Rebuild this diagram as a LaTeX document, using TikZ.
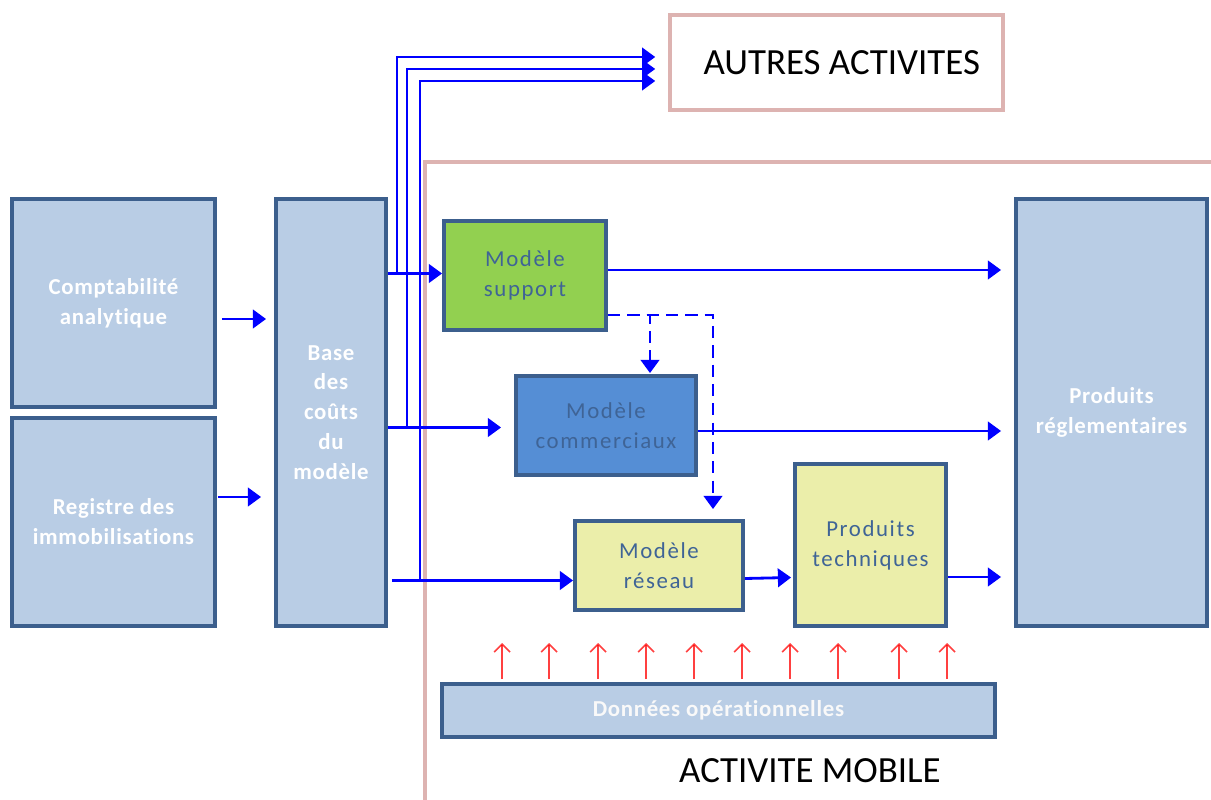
\documentclass[tikz,border=0pt]{standalone}
\usepackage{fontspec}
\setmainfont[Ligatures={NoCommon}]{Carlito}
\usetikzlibrary{arrows.meta,calc}
\definecolor{lb}{HTML}{B9CDE5}
\definecolor{bd}{HTML}{3C5F8D}
\definecolor{gr}{HTML}{92D050}
\definecolor{cm}{HTML}{558ED5}
\definecolor{yl}{HTML}{EBEEAA}
\definecolor{tx}{HTML}{3F6496}
\definecolor{pk}{HTML}{DDB3B1}
\definecolor{bl}{HTML}{0000FF}
\newcommand\pxu{0.02cm}
\begin{document}
\begin{tikzpicture}[x=0.02cm,y=-0.02cm,
 box/.style={draw=bd, line width=2.2pt, align=center, inner sep=0pt},
 light/.style={box, fill=lb, text=white, font=\bfseries\fontsize{13}{17}\selectfont\addfontfeature{LetterSpace=3,Ligatures=NoCommon}},
 dark/.style={box, text=tx, font=\fontsize{13}{17}\selectfont\addfontfeature{LetterSpace=7,Ligatures=NoCommon}},
 sz/.style args={#1/#2}{minimum width=#1*\pxu, minimum height=#2*\pxu},
 arr/.style={draw=bl, line width=1.6pt, -{Triangle[length=7.5pt,width=10.5pt]}},
 darr/.style={arr, dash pattern=on 7pt off 4pt},
 redarr/.style={draw=red, opacity=0.75, line width=0.9pt, -{Straight Barb[length=4.5pt,width=9pt]}},
 frame/.style={draw=pk, line width=2pt},
 big/.style={font=\fontsize{21}{25}\selectfont, text=black, inner sep=0pt}
]
\useasboundingbox (0,0) rectangle (1211,800);
% frames
\draw[frame] (425,810) -- (425,162) -- (1220,162);
\node[frame, sz=333/95, big] (autres) at (836.5,62.5) {\hspace*{6pt}AUTRES ACTIVITES};
\node[big] (mobile) at (810,771) {ACTIVITE MOBILE};
% boxes
\node[light, sz=203/208] (compta) at (113.5,303) {Comptabilité\\analytique};
\node[light, sz=203/208] (registre) at (113.5,522) {Registre des\\immobilisations};
\node[light, sz=110/427] (base) at (331,412.5) {Base\\des\\coûts\\du\\modèle};
\node[dark, fill=gr, sz=162/109] (support) at (525,275.5) {Modèle\\support};
\node[dark, fill=cm, sz=180/99] (commerciaux) at (606,425.5) {Modèle\\commerciaux};
\node[dark, fill=yl, sz=168/89] (reseau) at (659,565.5) {Modèle\\réseau};
\node[dark, fill=yl, sz=151/162] (techniques) at (870.5,545) {Produits\\techniques};
\node[light, sz=191/427] (regl) at (1111.5,412.5) {Produits\\réglementaires};
\node[light, sz=553/53, text=white!95!gray] (donnees) at (718.5,710.5) {Données opérationnelles};
% inputs to base
\draw[arr] ($(compta.east)+(5,16)$) -- ($(base.west |- compta.east)+(-8,16)$);
\draw[arr] ($(registre.east)+(1,-25)$) -- ($(base.west |- registre.east)+(-13,-25)$);
% to autres activites
\draw[arr] ($(base.east |- support.west)+(9,-2)$) |- ($(autres.west)+(-13,-5.5)$);
\draw[arr] ($(base.east |- commerciaux.west)+(19,2)$) |- ($(autres.west)+(-13,6.5)$);
\draw[arr] ($(base.east |- reseau.west)+(32,15)$) |- ($(autres.west)+(-13,18.5)$);
% base to models
\draw[arr] ($(base.east |- support.west)+(0,-2)$) -- ($(support.west)+(0,-2)$);
\draw[arr] ($(base.east |- commerciaux.west)+(0,2)$) -- ($(commerciaux.west)+(-13,2)$);
\draw[arr] ($(base.east |- reseau.west)+(4,15)$) -- ($(reseau.west)+(0,15)$);
% models to products
\draw[arr] ($(support.east)+(0,-5.5)$) -- ($(regl.west |- support.east)+(-13,-5.5)$);
\draw[arr] ($(commerciaux.east)+(0,5.5)$) -- ($(regl.west |- commerciaux.east)+(-13,5.5)$);
\draw[arr] ($(reseau.east)+(0,13)$) -- ($(techniques.west |- reseau.east)+(-2,12)$);
\draw[arr] ($(techniques.east)+(0,32)$) -- ($(regl.west |- techniques.east)+(-13,32)$);
% dashed
\draw[darr] ($(support.east)+(0,39.5)$) -| ($(reseau.north)+(54,-10)$);
\draw[darr] ($(support.east)+(0,39.5)$) -| ($(commerciaux.north)+(44,-1)$);
% red arrows
\foreach \xx in {62,109,158,206,254,302,350,398,459,507}
  \draw[redarr] ($(donnees.north west)+(\xx,-3)$) -- ++(0,-36);
\end{tikzpicture}
\end{document}
